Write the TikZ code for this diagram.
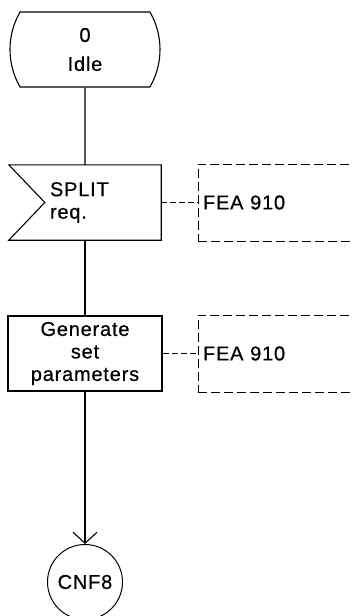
\documentclass[tikz,border=0pt]{standalone}
\usepackage{fontspec}
\setmainfont{Liberation Sans}[LetterSpace=4, FakeBold=0.6]
\usetikzlibrary{shapes.misc,arrows.meta,calc}
\begin{document}
\begin{tikzpicture}[x=1pt, y=-1pt, auto, font=\fontsize{20}{22.5}\selectfont]
    \tikzstyle{state} = [rounded rectangle, rounded rectangle arc length=60, draw, line width=1.1pt, minimum width=152pt, minimum height=75pt, align=center]
    \tikzstyle{inputsig} = [rectangle, minimum width=152pt, minimum height=75pt, inner xsep=41pt, text width=70pt, align=left]
    \tikzstyle{task} = [rectangle, draw, line width=1.1pt, minimum width=154pt, minimum height=75pt, align=center]
    \tikzstyle{connector} = [circle, draw, line width=1pt, minimum size=75pt, inner sep=0pt]
    \tikzstyle{refbox} = [rectangle, draw, dash pattern=on 9pt off 4pt, line width=1pt, text width=170pt, inner xsep=5pt, minimum height=77pt, align=left]
    \tikzstyle{flow} = [line width=1.1pt]
    \tikzstyle{link} = [line width=1pt, dash pattern=on 6pt off 3pt]

    \useasboundingbox (0,0) rectangle (352,616);
    \clip (0,0) rectangle (352,616);

    % State
    \node [state] (idle) at (85,49.5) {0\\[6.5pt]Idle};

    % Input
    \node [inputsig, below of=idle, node distance=153pt] (split) {SPLIT\\req.};
    \draw [flow] (split.north west) -- (split.north east) -- (split.south east)
        -- (split.south west) -- ($(split.west)+(36,0)$) -- cycle;

    % Task
    \node [task, below of=split, node distance=151pt] (setpar) {Generate\\set\\parameters};

    % Connector
    \node [connector, below of=setpar, node distance=228.5pt] (cnf) {CNF8};

    % References
    \node [refbox, right of=split, node distance=203pt] (fea1) {FEA 910};
    \node [refbox, right of=setpar, node distance=203pt] (fea2) {FEA 910};

    \draw [flow] (idle) -- (split);
    \draw [flow] (split) -- (setpar);
    \draw [flow, -{Straight Barb[length=11pt, width=24pt]}] (setpar) -- (cnf);
    \draw [link] (split) -- (fea1);
    \draw [link] (setpar) -- (fea2);
\end{tikzpicture}
\end{document}
